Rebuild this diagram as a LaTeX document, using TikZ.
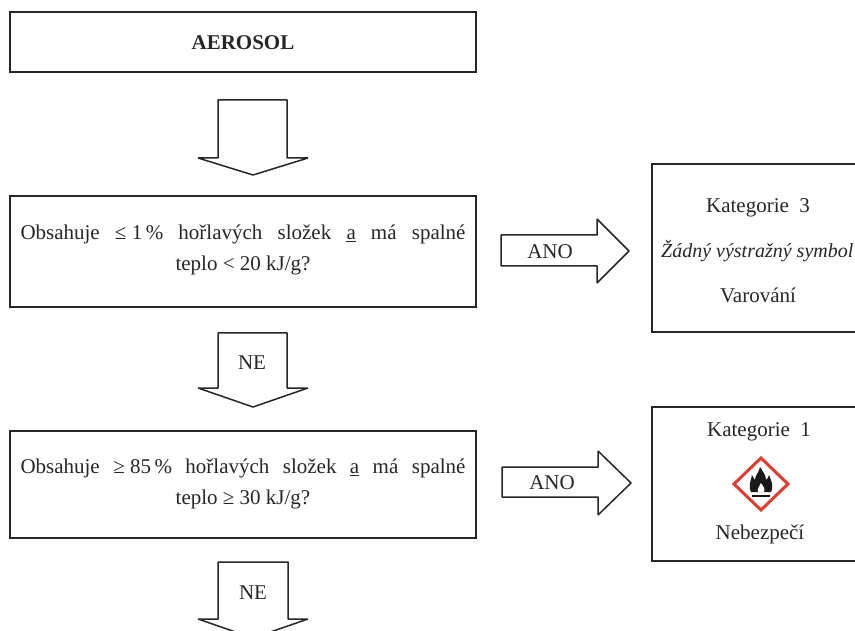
\documentclass[tikz,border=0pt]{standalone}
\usepackage{fontspec}
\setmainfont{Liberation Serif}
\newcommand{\txt}{\fontsize{21}{31}\selectfont}
\newcommand{\ittxt}{\fontsize{20}{29}\selectfont\itshape}
\newcommand{\jline}[1]{\makebox[445pt][s]{#1}}
\definecolor{ghsred}{RGB}{226,60,48}
\tikzset{
  boxed/.style={draw=black!85,line width=1.5pt,fill=white,inner sep=0pt,font=\txt,align=center},
  blockarrow/.style={draw=black!85,line width=1.5pt,fill=white,line join=bevel},
  lbl/.style={inner sep=0pt,font=\txt,text=black!85,align=center},
}
\begin{document}
\begin{tikzpicture}[x=1pt,y=-1pt]
\useasboundingbox (0,0) rectangle (855,631);
\clip (0,0) rectangle (855,631);
\fill[white] (0,0) rectangle (855,631);
% left boxes
\node[boxed,minimum width=466pt,minimum height=60pt] (aero) at (243,42) {};
\node[lbl,font=\txt\bfseries] (aerot) at (243,43) {AEROSOL};
\node[boxed,minimum width=466pt,minimum height=111pt] (q1) at (243,251.5) {};
\node[lbl] (q1t) at (243,250) {\jline{Obsahuje \mbox{≤ 1\,\%} hořlavých složek \underline{a} má spalné}\\teplo \mbox{< 20 kJ/g?}};
\node[boxed,minimum width=466pt,minimum height=107pt] (q2) at (243,484.5) {};
\node[lbl] (q2t) at (243,484) {\jline{Obsahuje \mbox{≥ 85\,\%} hořlavých složek \underline{a} má spalné}\\teplo \mbox{≥ 30 kJ/g?}};
% right boxes
\node[boxed,minimum width=300pt,minimum height=168pt] (c3) at (802,248) {};
\node[boxed,minimum width=300pt,minimum height=154pt] (c1) at (802,484) {};
\node[lbl] (c3a) at (758,208) {Kategorie~~3};
\node[lbl,font=\ittxt,anchor=west] (c3b) at (661,251) {Žádný výstražný symbol};
\node[lbl] (c3c) at (758,295) {Varování};
\node[lbl] (c1a) at (759,432) {Kategorie~~1};
\node[lbl] (c1b) at (760,534) {Nebezpečí};
% pictogram
\draw[line width=3pt,draw=ghsred,fill=white,line join=miter] (761,458) -- (788,484) -- (761,510) -- (734,484) -- cycle;
\fill[black!90] (751,492) .. controls (748,485) and (751,481) .. (752,475)
  .. controls (753,477) and (754,479) .. (755,480)
  .. controls (755,475) and (759,473) .. (760,467)
  .. controls (763,472) and (766,475) .. (766,480)
  .. controls (768,479) and (768,477) .. (769,475)
  .. controls (771,481) and (774,485) .. (771,492) -- cycle;
\fill[white] (758,492) .. controls (757,488) and (760,486) .. (761,483)
  .. controls (762,486) and (766,488) .. (764,492) -- cycle;
\draw[black!90,line width=1.2pt] (752,496) -- (770,496);
% down arrows
\draw[blockarrow] (218,100) -- (287,100) -- (287,158) -- (308,158) -- (253,175) -- (198,158) -- (218,158) -- cycle;
\draw[blockarrow] (218,333) -- (287,333) -- (287,388) -- (308,388) -- (253,407) -- (198,388) -- (218,388) -- cycle;
\draw[blockarrow] (218,562) -- (288,562) -- (288,619) -- (308,619) -- (253,638) -- (198,619) -- (218,619) -- cycle;
\node[lbl] (ne1) at (252,363) {NE};
\node[lbl] (ne2) at (253,593) {NE};
% right arrows
\draw[blockarrow] (501,235) -- (597,235) -- (597,219) -- (629,251) -- (597,283) -- (597,266) -- (501,266) -- cycle;
\draw[blockarrow] (502,467) -- (598,467) -- (598,451) -- (631,483) -- (598,515) -- (598,497) -- (502,497) -- cycle;
\node[lbl] (ano1) at (550,252) {ANO};
\node[lbl] (ano2) at (552,483) {ANO};
\end{tikzpicture}
\end{document}
